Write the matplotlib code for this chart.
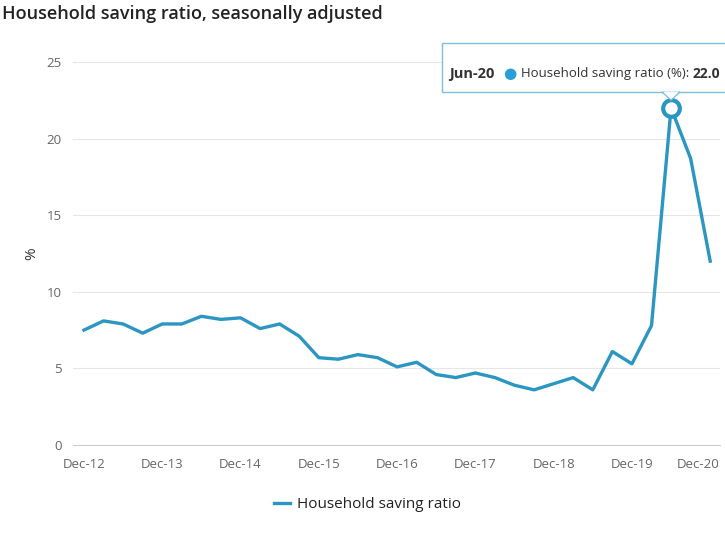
import numpy as np
import matplotlib.pyplot as plt
from matplotlib.patches import FancyBboxPatch, Polygon
from matplotlib.transforms import ScaledTranslation

# quarterly household saving ratio, Dec-12 .. Dec-20
quarters = ["Dec-12", "Mar-13", "Jun-13", "Sep-13", "Dec-13", "Mar-14", "Jun-14", "Sep-14",
            "Dec-14", "Mar-15", "Jun-15", "Sep-15", "Dec-15", "Mar-16", "Jun-16", "Sep-16",
            "Dec-16", "Mar-17", "Jun-17", "Sep-17", "Dec-17", "Mar-18", "Jun-18", "Sep-18",
            "Dec-18", "Mar-19", "Jun-19", "Sep-19", "Dec-19", "Mar-20", "Jun-20", "Sep-20",
            "Dec-20"]
saving = [7.5, 8.1, 7.9, 7.3, 7.9, 7.9, 8.4, 8.2,
          8.3, 7.6, 7.9, 7.1, 5.7, 5.6, 5.9, 5.7,
          5.1, 5.4, 4.6, 4.4, 4.7, 4.4, 3.9, 3.6,
          4.0, 4.4, 3.6, 6.1, 5.3, 7.8, 22.0, 18.7,
          12.0]
yticks = [0, 5, 10, 15, 20, 25]
highlight = "Jun-20"

BLUE = "#2b96c1"
FONT = ["Open Sans", "DejaVu Sans"]
plt.rcParams["font.family"] = FONT

W, H = 725, 533
fig = plt.figure(figsize=(W / 100, H / 100), dpi=100)
ax = fig.add_axes([73 / W, 1 - 445 / H, (720 - 73) / W, (445 - 62) / H])

x = np.arange(len(quarters))
ax.plot(x, saving, color=BLUE, linewidth=2.4, solid_joinstyle="round", zorder=3)

hi = quarters.index(highlight)
ax.plot(x[hi], saving[hi], "o", markersize=12, markerfacecolor="white",
        markeredgecolor=BLUE, markeredgewidth=3, zorder=4)

ax.set_ylim(0, 25)
ax.set_xlim(-0.56, 32.5)
ax.set_yticks(yticks)
ax.set_xticks(x[::4])
ax.set_xticklabels(quarters[::4])
ax.tick_params(length=0, labelsize=9.5, colors="#666666", pad=8)
ax.tick_params(axis="x", pad=9)
# keep the last label inside the figure
last = ax.get_xticklabels()[-1]
last.set_horizontalalignment("right")
last.set_transform(last.get_transform() + ScaledTranslation(9 / 100, 0, fig.dpi_scale_trans))
ax.grid(axis="y", color="#e6e6e6", linewidth=0.8)
for s in ["top", "right", "left"]:
    ax.spines[s].set_visible(False)
ax.spines["bottom"].set_color("#cccccc")
ax.set_ylabel("%", fontsize=11, color="#333333", labelpad=5)
ax.set_axisbelow(True)

fig.text(2 / W, 1 - 14 / H, "Household saving ratio, seasonally adjusted",
         fontsize=13, fontweight="semibold", color="#222222", va="center")

# legend
leg = ax.legend(["Household saving ratio"], loc="center", bbox_to_anchor=(0.455, -0.155),
                frameon=False, fontsize=11, handlelength=1.1, handletextpad=0.45)
for t in leg.get_texts():
    t.set_color("#222222")

# tooltip
box = FancyBboxPatch((442 / W, 1 - 92 / H), 300 / W, 49 / H,
                     boxstyle="square,pad=0", transform=fig.transFigure,
                     facecolor="white", edgecolor="#7fbfdc", linewidth=1, zorder=5)
fig.patches.append(box)
tip = Polygon([(662 / W, 1 - 92 / H), (680 / W, 1 - 92 / H), (671 / W, 1 - 100 / H)],
              closed=True, transform=fig.transFigure, facecolor="white",
              edgecolor="#7fbfdc", linewidth=1, zorder=5)
fig.patches.append(tip)
fig.patches.append(Polygon([(663 / W, 1 - 91.5 / H), (679 / W, 1 - 91.5 / H), (671 / W, 1 - 99 / H)],
                           closed=True, transform=fig.transFigure, facecolor="white",
                           edgecolor="none", zorder=6))
ty = 1 - 74 / H
fig.text(449 / W, ty, highlight, fontsize=10.5, fontweight="bold", color="#333333", va="center", zorder=7)
fig.text(510 / W, ty, "\u25cf", fontsize=11, color="#2a9fd6", va="center", ha="center", zorder=7)
fig.text(521 / W, ty, "Household saving ratio (%):", fontsize=9.5, color="#333333", va="center", zorder=7)
fig.text(693 / W, ty, f"{saving[hi]:.1f}", fontsize=10, fontweight="bold", color="#333333", va="center", zorder=7)

fig.savefig("out.png", dpi=100)
